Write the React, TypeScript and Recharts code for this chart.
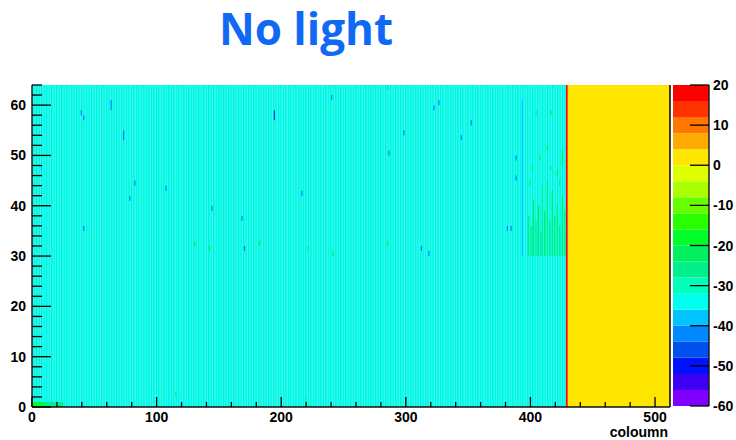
import { ComposedChart, BarChart, Bar, XAxis, YAxis, ReferenceArea, ReferenceLine } from 'recharts';

// colour scale: 20 contours between -60 and 20
const Z_LEVELS = [-60, -56, -52, -48, -44, -40, -36, -32, -28, -24, -20, -16, -12, -8, -4, 0, 4, 8, 12, 16, 20];
const PALETTE = [
  '#7f00ff', '#3d00f2', '#0011ff', '#0050ee', '#0088ff',
  '#00c3ff', '#00ffee', '#00ffbb', '#00f08c', '#00f060',
  '#00ff2a', '#2aff00', '#66ff00', '#aaff00', '#ddff00',
  '#ffe600', '#ffaa00', '#ff7700', '#ff3300', '#ff0000',
];

const X_TICKS = [0, 20, 40, 60, 80, 100, 120, 140, 160, 180, 200, 220, 240, 260, 280, 300, 320, 340, 360, 380, 400, 420, 440, 460, 480, 500];
const Y_TICKS = [0, 2, 4, 6, 8, 10, 12, 14, 16, 18, 20, 22, 24, 26, 28, 30, 32, 34, 36, 38, 40, 42, 44, 46, 48, 50, 52, 54, 56, 58, 60, 62, 64];
const Z_TICKS = [-60, -50, -40, -30, -20, -10, 0, 10, 20];

// whole-column blocks (column from, column to, value)
const BANDS = [
  { from: 0, to: 428.5, value: -34 },
  { from: 428.5, to: 430, value: 17 },
  { from: 430, to: 512, value: 2 },
];

// single cold pixels / short runs: column, first row, last row, value
const COLD_PIXELS = [
  { col: 63, r0: 59, r1: 60, value: -42 },
  { col: 39, r0: 58, r1: 58, value: -42 },
  { col: 41, r0: 57, r1: 57, value: -42 },
  { col: 73, r0: 53, r1: 54, value: -42 },
  { col: 82, r0: 44, r1: 44, value: -42 },
  { col: 107, r0: 43, r1: 43, value: -42 },
  { col: 78, r0: 41, r1: 41, value: -42 },
  { col: 144, r0: 39, r1: 39, value: -42 },
  { col: 41, r0: 35, r1: 35, value: -42 },
  { col: 7, r0: 47, r1: 47, value: -38 },
  { col: 240, r0: 61, r1: 61, value: -42 },
  { col: 194, r0: 57, r1: 58, value: -46 },
  { col: 286, r0: 50, r1: 50, value: -42 },
  { col: 216, r0: 42, r1: 42, value: -42 },
  { col: 168, r0: 37, r1: 37, value: -42 },
  { col: 170, r0: 31, r1: 31, value: -42 },
  { col: 326, r0: 60, r1: 60, value: -42 },
  { col: 322, r0: 59, r1: 59, value: -42 },
  { col: 298, r0: 54, r1: 54, value: -42 },
  { col: 352, r0: 56, r1: 56, value: -42 },
  { col: 344, r0: 53, r1: 53, value: -42 },
  { col: 388, r0: 49, r1: 49, value: -42 },
  { col: 388, r0: 45, r1: 45, value: -42 },
  { col: 381, r0: 35, r1: 35, value: -42 },
  { col: 384, r0: 35, r1: 35, value: -42 },
  { col: 312, r0: 31, r1: 31, value: -42 },
  { col: 318, r0: 30, r1: 30, value: -42 },
  { col: 393, r0: 30, r1: 60, value: -40 },
];

// warmer pixels (green)
const WARM_PIXELS = [
  { col: 0, w: 10, r0: 0, r1: 0, value: -18 },
  { col: 10, w: 15, r0: 0, r1: 0, value: -27 },
  { col: 115, w: 1, r0: 2, r1: 2, value: -27 },
  { col: 130, w: 1, r0: 32, r1: 32, value: -24 },
  { col: 142, w: 1, r0: 31, r1: 31, value: -24 },
  { col: 182, w: 1, r0: 32, r1: 32, value: -24 },
  { col: 219, w: 1, r0: 1, r1: 1, value: -27 },
  { col: 221, w: 1, r0: 31, r1: 31, value: -27 },
  { col: 241, w: 1, r0: 30, r1: 30, value: -24 },
  { col: 285, w: 1, r0: 32, r1: 32, value: -24 },
  { col: 285, w: 1, r0: 63, r1: 63, value: -27 },
  { col: 404, w: 1, r0: 58, r1: 58, value: -27 },
  { col: 416, w: 1, r0: 58, r1: 58, value: -24 },
  { col: 413, w: 1, r0: 51, r1: 51, value: -24 },
  { col: 425, w: 1, r0: 48, r1: 50, value: -24 },
  { col: 407, w: 1, r0: 49, r1: 49, value: -24 },
  { col: 416, w: 1, r0: 47, r1: 47, value: -27 },
  { col: 401, w: 1, r0: 47, r1: 47, value: -24 },
  { col: 421, w: 1, r0: 46, r1: 46, value: -24 },
  { col: 399, w: 1, r0: 44, r1: 44, value: -27 },
  { col: 423, w: 1, r0: 44, r1: 44, value: -24 },
  { col: 398, w: 1, r0: 30, r1: 37, value: -27 },
  { col: 400, w: 1, r0: 30, r1: 35, value: -27 },
  { col: 402, w: 1, r0: 30, r1: 40, value: -24 },
  { col: 404, w: 1, r0: 30, r1: 36, value: -27 },
  { col: 406, w: 1, r0: 30, r1: 39, value: -24 },
  { col: 408, w: 1, r0: 30, r1: 34, value: -27 },
  { col: 409, w: 1, r0: 30, r1: 43, value: -27 },
  { col: 411, w: 1, r0: 30, r1: 38, value: -24 },
  { col: 413, w: 1, r0: 30, r1: 44, value: -27 },
  { col: 415, w: 1, r0: 30, r1: 36, value: -27 },
  { col: 417, w: 1, r0: 30, r1: 42, value: -24 },
  { col: 419, w: 1, r0: 30, r1: 37, value: -27 },
  { col: 421, w: 1, r0: 30, r1: 39, value: -24 },
  { col: 423, w: 1, r0: 30, r1: 35, value: -27 },
  { col: 425, w: 1, r0: 30, r1: 41, value: -24 },
  { col: 427, w: 1, r0: 30, r1: 38, value: -27 },
];

const FONT = "'Liberation Sans', Arial, sans-serif";

const colorFor = (v: number) => {
  let i = Math.floor((v - Z_LEVELS[0]) / (Z_LEVELS[1] - Z_LEVELS[0]));
  if (i < 0) i = 0;
  if (i > PALETTE.length - 1) i = PALETTE.length - 1;
  return PALETTE[i];
};

// one category holding a [low, high] range per contour, for the colour bar
const zRow: Record<string, any> = { name: 'z' };
PALETTE.forEach((_, i) => {
  zRow[`c${i}`] = [Z_LEVELS[i], Z_LEVELS[i + 1]];
});
const Z_DATA = [zRow];

const labelStyle = { fontFamily: FONT, fontWeight: 700, fontSize: 14, fill: '#000' };

// ticks drawn inside the frame, ROOT style
const LeftTick = ({ x, y, payload }: any) => {
  const major = payload.value % 10 === 0;
  return (
    <g>
      <line x1={x} x2={x + (major ? 19 : 10)} y1={y} y2={y} stroke="#000" strokeWidth={1.3} />
      {major && (
        <text x={x - 6} y={y} dy={5} textAnchor="end" {...labelStyle}>{payload.value}</text>
      )}
    </g>
  );
};

const BottomTick = ({ x, y, payload }: any) => {
  const major = payload.value % 100 === 0;
  return (
    <g>
      <line x1={x} x2={x} y1={y} y2={y - (major ? 10 : 5)} stroke="#000" strokeWidth={1.3} />
      {major && (
        <text x={x} y={y + 14.5} textAnchor="middle" {...labelStyle}>{payload.value}</text>
      )}
    </g>
  );
};

const RightTick = ({ x, y, payload }: any) => (
  <g>
    <line x1={x} x2={x - 19} y1={y} y2={y} stroke="#000" strokeWidth={1.3} />
    <text x={x + 4} y={y} dy={5} textAnchor="start" {...labelStyle}>{payload.value}</text>
  </g>
);

export default function App() {
  return (
    <div style={{ position: 'absolute', left: 0, top: 0, width: 736, height: 440, background: '#fff' }}>
      <div
        style={{
          position: 'absolute',
          left: 0,
          top: 0,
          width: 612,
          textAlign: 'center',
          fontFamily: "'Open Sans', sans-serif",
          fontWeight: 700,
          fontSize: 44,
          lineHeight: '56px',
          color: '#0f69f5',
          whiteSpace: 'nowrap',
        }}
      >
        No light
      </div>

      <div style={{ position: 'absolute', left: 0, top: 0 }}>
        <ComposedChart width={736} height={440} margin={{ top: 85, right: 66, bottom: 0, left: 0 }}>
          <defs>
            <pattern id="colStripes" patternUnits="userSpaceOnUse" x={32} y={0} width={2.4922} height={10}>
              <rect x={0} y={0} width={1.2461} height={10} fill="#06fff2" />
              <rect x={1.2461} y={0} width={1.2461} height={10} fill="#00f0da" />
            </pattern>
          </defs>
          {BANDS.map((b) => (
            <ReferenceArea
              key={`band-${b.from}`}
              x1={b.from}
              x2={b.to}
              y1={0}
              y2={64}
              fill={colorFor(b.value) === PALETTE[6] ? 'url(#colStripes)' : colorFor(b.value)}
              fillOpacity={1}
              stroke="none"
            />
          ))}
          {COLD_PIXELS.map((p, i) => (
            <ReferenceArea
              key={`cold-${i}`}
              x1={p.col}
              x2={p.col + 1}
              y1={p.r0}
              y2={p.r1 + 1}
              fill={colorFor(p.value)}
              fillOpacity={1}
              stroke="none"
            />
          ))}
          {WARM_PIXELS.map((p, i) => (
            <ReferenceArea
              key={`warm-${i}`}
              x1={p.col}
              x2={p.col + p.w}
              y1={p.r0}
              y2={p.r1 + 1}
              fill={colorFor(p.value)}
              fillOpacity={1}
              stroke="none"
            />
          ))}
          <ReferenceLine x={512} stroke="#000" strokeWidth={1.5} />
          <XAxis
            type="number"
            dataKey="x"
            domain={[0, 512]}
            ticks={X_TICKS}
            interval={0}
            allowDataOverflow
            height={33}
            tickSize={0}
            tickMargin={0}
            tickLine={false}
            tick={<BottomTick />}
            axisLine={{ stroke: '#111', strokeWidth: 1.6 }}
            label={(props: any) => {
              const vb = props.viewBox;
              return (
                <text x={vb.x + vb.width - 2} y={vb.y + 29.5} textAnchor="end" {...labelStyle}>
                  coloumn
                </text>
              );
            }}
          />
          <YAxis
            type="number"
            dataKey="y"
            domain={[0, 64]}
            ticks={Y_TICKS}
            interval={0}
            allowDataOverflow
            width={32}
            tickSize={0}
            tickMargin={0}
            tickLine={false}
            tick={<LeftTick />}
            axisLine={{ stroke: '#111', strokeWidth: 1.4 }}
          />
        </ComposedChart>
      </div>

      {/* colour bar: overlapping range bars, one per contour */}
      <div style={{ position: 'absolute', left: 0, top: 0 }}>
        <BarChart
          width={736}
          height={440}
          data={Z_DATA}
          margin={{ top: 85, right: 0, bottom: 34, left: 673 }}
          barCategoryGap={0}
          barGap={-35.9}
        >
          <XAxis type="category" dataKey="name" hide />
          <YAxis
            type="number"
            orientation="right"
            domain={[-60, 20]}
            ticks={Z_TICKS}
            interval={0}
            allowDataOverflow
            width={27}
            tickSize={0}
            tickMargin={0}
            tickLine={false}
            tick={<RightTick />}
            axisLine={{ stroke: '#111', strokeWidth: 1.4 }}
          />
          {PALETTE.map((c, i) => (
            <Bar key={`c${i}`} dataKey={`c${i}`} fill={c} barSize={35.9} isAnimationActive={false} />
          ))}
        </BarChart>
      </div>
    </div>
  );
}
